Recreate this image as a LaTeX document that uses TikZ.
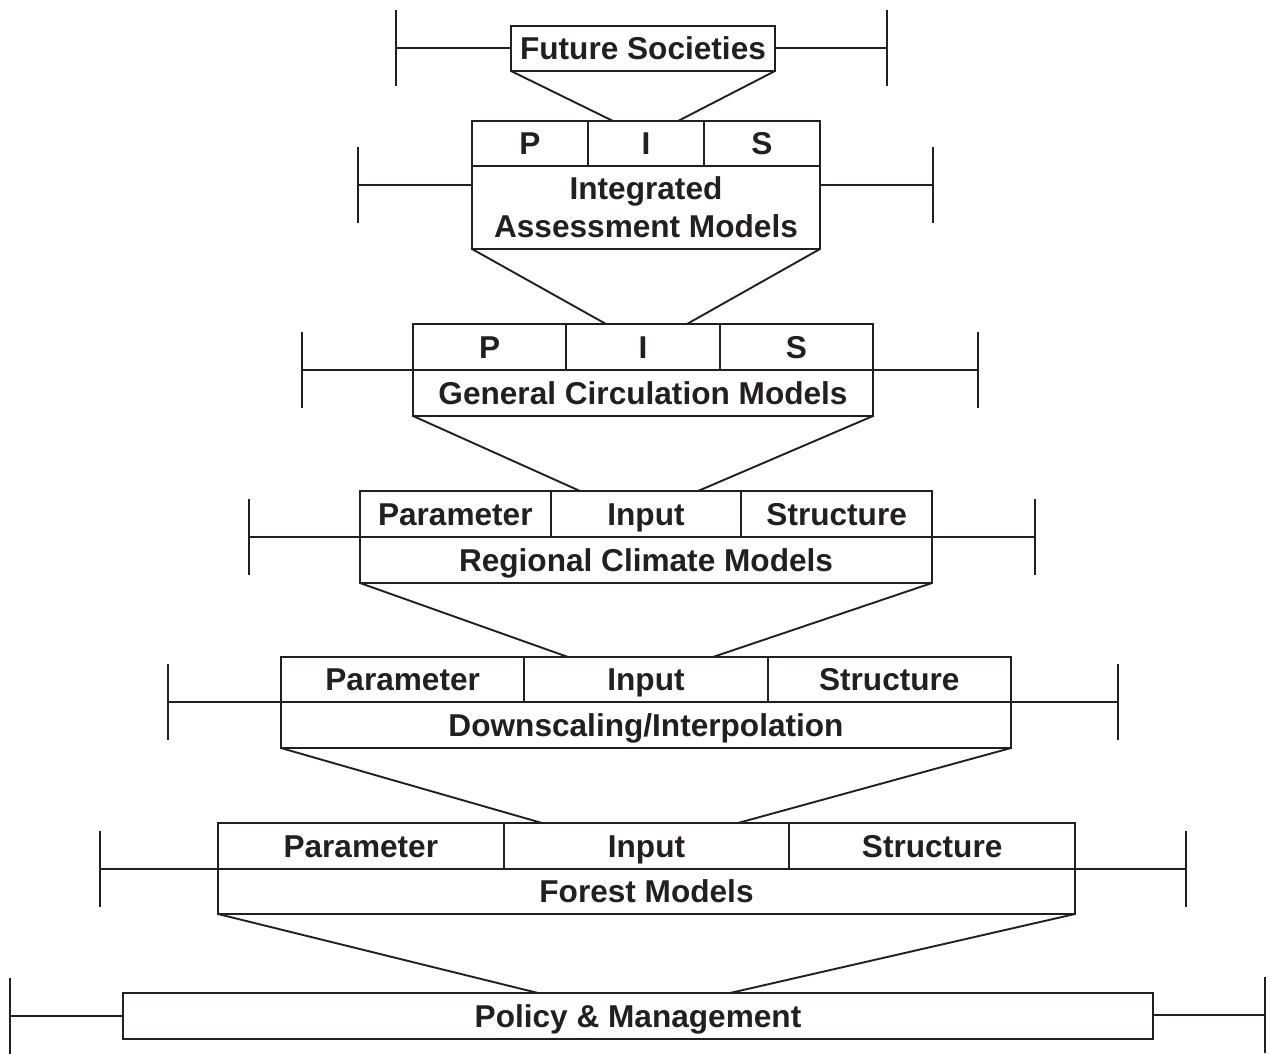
\documentclass[tikz,border=0pt]{standalone}
\usepackage{fontspec}
\setmainfont{Liberation Sans}
\definecolor{ink}{RGB}{35,31,32}
\newcommand\labfont{\bfseries\fontsize{31.6}{38}\selectfont}
\begin{document}
\begin{tikzpicture}[x=1pt,y=-1pt,
  every node/.style={inner sep=0pt, outer sep=0pt, text=ink},
  boxbase/.style={draw=ink, line width=1.9pt, rectangle, anchor=north west, font=\labfont},
  cell/.style={boxbase, text height=22.6pt, text depth=0pt},
  link/.style={draw=ink, line width=1.9pt},
  errbar/.style={draw=ink, line width=1.9pt}]
\useasboundingbox (0,0) rectangle (1270,1054);

% ---------- Row 0: Future Societies
\node[cell, minimum width=264pt, minimum height=45pt] (fs) at (511,26) {Future Societies};

% ---------- Row 1: Integrated Assessment Models
\node[cell, minimum width=116pt, minimum height=45pt] (iamP) at (472,121) {P};
\node[cell, minimum width=116pt, minimum height=45pt] (iamI) at (588,121) {I};
\node[cell, minimum width=116pt, minimum height=45pt] (iamS) at (704,121) {S};
\node[boxbase, minimum width=348pt, minimum height=83pt, align=center] (iam) at (472,166) {Integrated\\Assessment Models};

% ---------- Row 2: General Circulation Models
\node[cell, minimum width=153.33pt, minimum height=46pt] (gcmP) at (413,324) {P};
\node[cell, minimum width=153.33pt, minimum height=46pt] (gcmI) at (566.33,324) {I};
\node[cell, minimum width=153.33pt, minimum height=46pt] (gcmS) at (719.67,324) {S};
\node[cell, minimum width=460pt, minimum height=46pt] (gcm) at (413,370) {General Circulation Models};

% ---------- Row 3: Regional Climate Models
\node[cell, minimum width=190.67pt, minimum height=46pt] (rcmP) at (360,491) {Parameter};
\node[cell, minimum width=190.67pt, minimum height=46pt] (rcmI) at (550.67,491) {Input};
\node[cell, minimum width=190.67pt, minimum height=46pt] (rcmS) at (741.33,491) {Structure};
\node[cell, minimum width=572pt, minimum height=46pt] (rcm) at (360,537) {Regional Climate Models};

% ---------- Row 4: Downscaling/Interpolation
\node[cell, minimum width=243.33pt, minimum height=45pt] (dsP) at (281,657) {Parameter};
\node[cell, minimum width=243.33pt, minimum height=45pt] (dsI) at (524.33,657) {Input};
\node[cell, minimum width=243.33pt, minimum height=45pt] (dsS) at (767.67,657) {Structure};
\node[cell, minimum width=730pt, minimum height=46pt] (ds) at (281,702) {Downscaling/Interpolation};

% ---------- Row 5: Forest Models
\node[cell, minimum width=285.67pt, minimum height=46pt] (fmP) at (218,823) {Parameter};
\node[cell, minimum width=285.67pt, minimum height=46pt] (fmI) at (503.67,823) {Input};
\node[cell, minimum width=285.67pt, minimum height=46pt] (fmS) at (789.33,823) {Structure};
\node[cell, minimum width=857pt, minimum height=45pt] (fm) at (218,869) {Forest Models};

% ---------- Row 6: Policy & Management
\node[cell, minimum width=1030pt, minimum height=46pt] (pm) at (123,993) {Policy \& Management};

% ---------- funnel end points
\coordinate (f1a) at (613,121); \coordinate (f1b) at (678,121);
\coordinate (f2a) at (606,324); \coordinate (f2b) at (687,324);
\coordinate (f3a) at (580,491); \coordinate (f3b) at (698,491);
\coordinate (f4a) at (568,657); \coordinate (f4b) at (713,657);
\coordinate (f5a) at (542,823); \coordinate (f5b) at (738,823);
\coordinate (f6a) at (538,993); \coordinate (f6b) at (730,993);

\draw[link] (fs.south west) -- (f1a);  \draw[link] (fs.south east) -- (f1b);
\draw[link] (iam.south west) -- (f2a); \draw[link] (iam.south east) -- (f2b);
\draw[link] (gcm.south west) -- (f3a); \draw[link] (gcm.south east) -- (f3b);
\draw[link] (rcm.south west) -- (f4a); \draw[link] (rcm.south east) -- (f4b);
\draw[link] (ds.south west) -- (f5a);  \draw[link] (ds.south east) -- (f5b);
\draw[link] (fm.south west) -- (f6a);  \draw[link] (fm.south east) -- (f6b);

% ---------- uncertainty bars
\coordinate (l0) at (396,48);   \coordinate (r0) at (887,48);
\coordinate (l1) at (358,185);  \coordinate (r1) at (933,185);
\coordinate (l2) at (302,370);  \coordinate (r2) at (978,370);
\coordinate (l3) at (249,537);  \coordinate (r3) at (1035,537);
\coordinate (l4) at (168,702);  \coordinate (r4) at (1118,702);
\coordinate (l5) at (100,869);  \coordinate (r5) at (1186,869);
\coordinate (l6) at (10,1016);  \coordinate (r6) at (1265,1015);

\draw[errbar] (l0) -- (l0 -| fs.west);  \draw[errbar] (r0) -- (r0 -| fs.east);
\draw[errbar] (l1) -- (l1 -| iam.west); \draw[errbar] (r1) -- (r1 -| iam.east);
\draw[errbar] (l2) -- (l2 -| gcm.west); \draw[errbar] (r2) -- (r2 -| gcm.east);
\draw[errbar] (l3) -- (l3 -| rcm.west); \draw[errbar] (r3) -- (r3 -| rcm.east);
\draw[errbar] (l4) -- (l4 -| ds.west);  \draw[errbar] (r4) -- (r4 -| ds.east);
\draw[errbar] (l5) -- (l5 -| fm.west);  \draw[errbar] (r5) -- (r5 -| fm.east);
\draw[errbar] (l6) -- (l6 -| pm.west);  \draw[errbar] (r6) -- (r6 -| pm.east);

\foreach \t in {l0,r0,l1,r1,l2,r2,l3,r3,l4,r4,l5,r5,l6,r6}
  \draw[errbar] ([yshift=38pt]\t) -- ([yshift=-38pt]\t);
\end{tikzpicture}
\end{document}
